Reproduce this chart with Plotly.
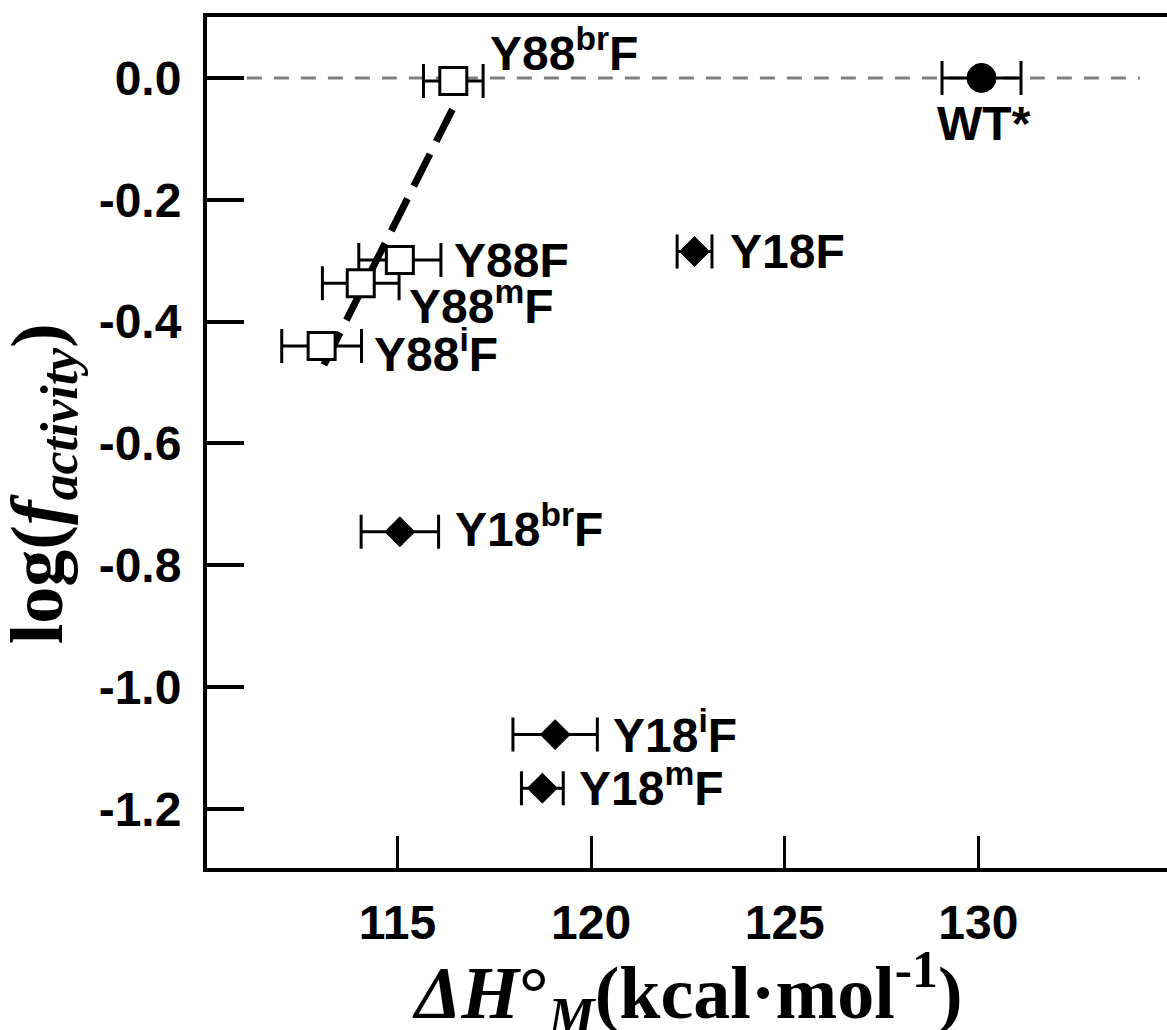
import plotly.graph_objects as go

# ---- data ----
y88_names = ["Y88<sup>br</sup>F", "Y88F", "Y88<sup>m</sup>F", "Y88<sup>i</sup>F"]
y88_dh = [116.44, 115.06, 114.05, 113.04]
y88_logf = [-0.005, -0.299, -0.337, -0.440]
y88_err = [0.77, 1.06, 0.99, 1.03]

y18_names = ["Y18F", "Y18<sup>br</sup>F", "Y18<sup>i</sup>F", "Y18<sup>m</sup>F"]
y18_dh = [122.67, 115.06, 119.07, 118.74]
y18_logf = [-0.285, -0.745, -1.078, -1.166]
y18_err = [0.45, 1.00, 1.09, 0.54]

wt_names = ["WT*"]
wt_dh = [130.08]
wt_logf = [0.0]
wt_err = [1.02]

fit_dh = [113.10, 116.54]
fit_logf = [-0.471, -0.036]

ref_dh = [111.11, 134.17]
ref_logf = [0.0, 0.0]

x_tickvals = [115, 120, 125, 130]
x_ticktext = ["115", "120", "125", "130"]
y_tickvals = [0.0, -0.2, -0.4, -0.6, -0.8, -1.0, -1.2]
y_ticktext = ["0.0", "-0.2", "-0.4", "-0.6", "-0.8", "-1.0", "-1.2"]

x_title = "<i>ΔH</i>°<sub><i>M</i></sub>(kcal·mol<sup>-1</sup>)"
y_title = "log(<i>f</i><sub><i>activity</i></sub>)"

# ---- figure ----
fig = go.Figure()

fig.add_trace(go.Scatter(x=ref_dh, y=ref_logf, mode="lines",
                         line=dict(color="#808080", width=3, dash="15px,12px"),
                         hoverinfo="skip", showlegend=False))
fig.add_trace(go.Scatter(x=fit_dh, y=fit_logf, mode="lines",
                         line=dict(color="black", width=7, dash="36px,14px"),
                         hoverinfo="skip", showlegend=False))

err_style = dict(type="data", visible=True, color="black", thickness=3, width=17)

fig.add_trace(go.Scatter(
    x=y88_dh, y=y88_logf, mode="markers", showlegend=False,
    error_x=dict(array=y88_err, **err_style),
    marker=dict(symbol="square", size=27, color="white",
                line=dict(color="black", width=3))))
fig.add_trace(go.Scatter(
    x=y18_dh, y=y18_logf, mode="markers", showlegend=False,
    error_x=dict(array=y18_err, **err_style),
    marker=dict(symbol="diamond", size=23, color="black",
                line=dict(color="black", width=1))))
fig.add_trace(go.Scatter(
    x=wt_dh, y=wt_logf, mode="markers", showlegend=False,
    error_x=dict(array=wt_err, **err_style),
    marker=dict(symbol="circle", size=29, color="black",
                line=dict(color="black", width=1))))

label_font = dict(family="Liberation Sans", size=48, color="black", weight="bold")
offsets88 = [(35, 31), (52, 0), (46, -20), (50, -5)]
offsets18 = [(33, 0), (53, 6), (56, 3), (35, 3)]

for names, xs, ys, offs in [(y88_names, y88_dh, y88_logf, offsets88),
                            (y18_names, y18_dh, y18_logf, offsets18)]:
    for n, x, y, (dx, dy) in zip(names, xs, ys, offs):
        fig.add_annotation(x=x, y=y, text=n, showarrow=False, xanchor="left",
                           yanchor="middle", xshift=dx, yshift=dy, font=label_font)
for n, x, y in zip(wt_names, wt_dh, wt_logf):
    fig.add_annotation(x=x, y=y, text=n, showarrow=False, xanchor="center",
                       yanchor="middle", xshift=2, yshift=-46, font=label_font)

tick_font = dict(family="Liberation Sans", size=48, color="black", weight="bold")
title_font = dict(family="Liberation Serif", size=74, color="black", weight="bold")

# axis titles as annotations for precise placement
fig.add_annotation(x=0.5, y=0, xref="paper", yref="paper", text=x_title,
                   showarrow=False, xanchor="center", yanchor="middle",
                   xshift=0, yshift=-125, font=title_font)
fig.add_annotation(x=0, y=0.451, xref="paper", yref="paper", text=y_title,
                   showarrow=False, xanchor="center", yanchor="middle",
                   textangle=-90, xshift=-165, font=title_font)

fig.update_xaxes(range=[110.08, 134.87], tickmode="array", tickvals=x_tickvals,
                 ticktext=x_ticktext, ticks="inside", ticklen=32, tickwidth=3,
                 tickcolor="black", showline=True, linecolor="black", linewidth=4,
                 mirror=True, showgrid=False, zeroline=False, tickfont=tick_font,
                 ticklabelstandoff=9)
fig.update_yaxes(range=[-1.297, 0.1], tickmode="array", tickvals=y_tickvals,
                 ticktext=y_ticktext, ticks="inside", ticklen=37, tickwidth=4,
                 tickcolor="black", showline=True, linecolor="black", linewidth=4,
                 mirror=False, showgrid=False, zeroline=False, tickfont=tick_font,
                 ticklabelstandoff=12)

fig.update_layout(width=1167, height=1030,
                  margin=dict(l=207, r=0, t=17, b=162, autoexpand=False),
                  plot_bgcolor="white", paper_bgcolor="white")

fig.write_html("out.html")
